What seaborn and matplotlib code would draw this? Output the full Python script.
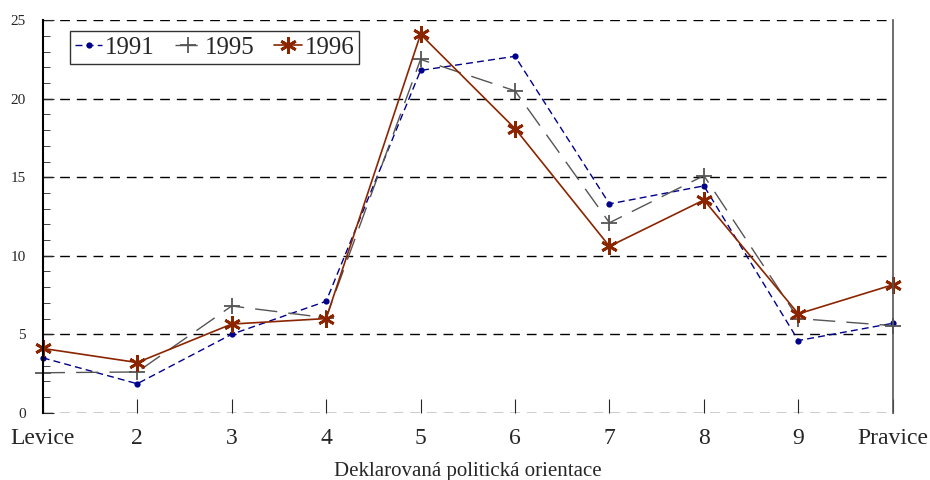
import matplotlib
matplotlib.use('Agg')
import matplotlib.pyplot as plt
import seaborn as sns
import pandas as pd
from matplotlib.ticker import MultipleLocator

# values
categories = ['Levice', '2', '3', '4', '5', '6', '7', '8', '9', 'Pravice']
y1991 = [3.5, 1.85, 5.0, 7.1, 21.8, 22.7, 13.3, 14.45, 4.6, 5.7]
y1995 = [2.55, 2.6, 6.8, 6.05, 22.5, 20.5, 12.1, 15.1, 6.0, 5.55]
y1996 = [4.1, 3.2, 5.65, 6.0, 24.1, 18.1, 10.6, 13.55, 6.3, 8.15]

sns.set_style('white')
plt.rcParams['font.family'] = ['Liberation Serif', 'DejaVu Serif']

fig = plt.figure(figsize=(9.3, 4.8), dpi=100)
ax = fig.add_axes([0.046, 0.140, 0.914, 0.818])

pos = list(range(len(categories)))

sns.lineplot(x=pos, y=y1991, ax=ax, color='#00008B', lw=1,
             linestyle=(0, (5, 3)), marker='o', markersize=4.5,
             markeredgewidth=0, markeredgecolor='#00008B', clip_on=False, label='1991')
sns.lineplot(x=pos, y=y1995, ax=ax, color='#555555', lw=1,
             linestyle=(0, (16, 8)), marker='+', markersize=11,
             markeredgewidth=1.3, markeredgecolor='#555555', clip_on=False, label='1995')
sns.lineplot(x=pos, y=y1996, ax=ax, color='#8B2500', lw=1.2,
             marker=(6, 2, 0), markersize=12, markeredgewidth=2,
             markeredgecolor='#8B2500', clip_on=False, label='1996')

ax.set_xlim(0, len(categories) - 1)
ax.set_ylim(0, 25)
ax.set_xticks(pos)
ax.set_xticklabels(categories, fontsize=17)
ax.yaxis.set_major_locator(MultipleLocator(5))
ax.yaxis.set_minor_locator(MultipleLocator(1))
ax.tick_params(axis='y', which='major', direction='in', length=8, labelsize=11, pad=12, left=True)
ax.tick_params(axis='y', which='minor', direction='in', length=5, left=True)
ax.tick_params(axis='x', which='major', direction='in', length=10, pad=11, bottom=True)

for v in range(0, 26, 5):
    ax.axhline(v, color='black', lw=1, ls=(0, (7, 5)), zorder=0)

for s in ['top', 'bottom']:
    ax.spines[s].set_visible(False)
ax.spines['left'].set_color('black')
ax.spines['left'].set_linewidth(1.5)
ax.spines['right'].set_color('#555555')
ax.spines['right'].set_linewidth(1.2)

ax.set_xlabel('Deklarovaná politická orientace', fontsize=15, labelpad=9)

leg = ax.legend(loc='upper left', ncol=3, fontsize=18, frameon=True, fancybox=False,
                edgecolor='black', handlelength=1.1, handletextpad=0.1,
                columnspacing=0.8, borderpad=0.2, borderaxespad=0,
                bbox_to_anchor=(0.032, 0.972))
leg.get_frame().set_linewidth(1)

fig.savefig('out.png', dpi=100)
